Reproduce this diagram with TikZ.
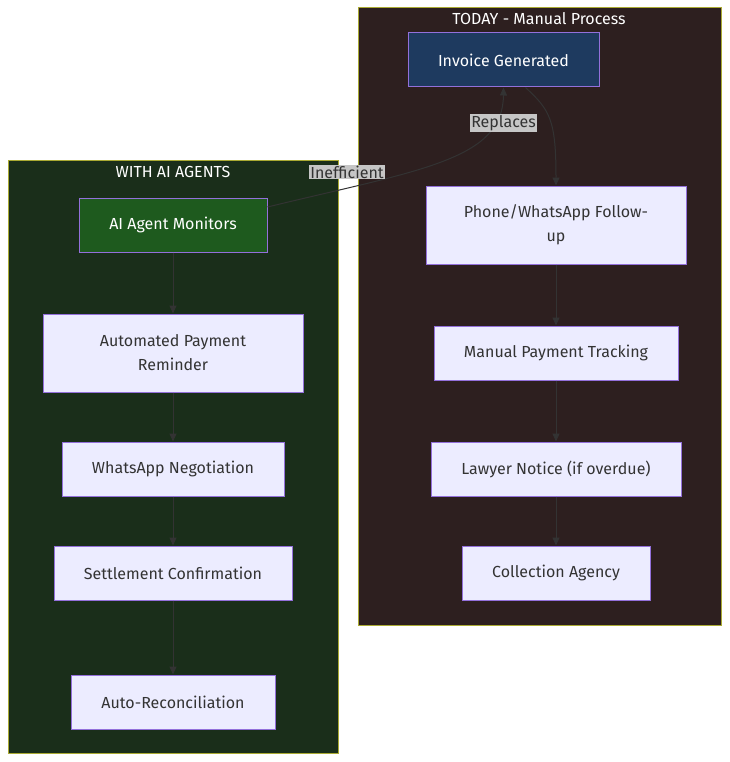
\documentclass[tikz,border=0pt]{standalone}
\usepackage{fontspec}
\setmainfont{Fira Sans}
\usetikzlibrary{arrows.meta}
\definecolor{todayfill}{HTML}{2D1F1F}
\definecolor{aifill}{HTML}{1A2E1A}
\definecolor{clborder}{HTML}{AAAA33}
\definecolor{invfill}{HTML}{1E3A5F}
\definecolor{aginfill}{HTML}{1E5A1E}
\definecolor{nodefill}{HTML}{ECECFF}
\definecolor{nodeborder}{HTML}{9370DB}
\definecolor{edgecol}{HTML}{333333}
\definecolor{textcol}{HTML}{333333}
\tikzset{
  box/.style={draw=nodeborder,fill=nodefill,text=textcol,line width=1pt,align=center,
    font=\fontsize{16}{24}\selectfont,inner sep=0pt},
  cluster/.style={draw=clborder,line width=1pt},
  ctitle/.style={text=white,font=\fontsize{16}{19}\selectfont},
  edge/.style={draw=edgecol,line width=1pt,-{Triangle[length=8pt,width=7pt]}},
  elabel/.style={fill=lightgray!90,text=textcol,font=\fontsize{16}{19}\selectfont,inner sep=1pt}
}
\begin{document}
\begin{tikzpicture}[x=1pt,y=-1pt]
\useasboundingbox (0,0) rectangle (729,762);
\fill[white] (0,0) rectangle (729,762);
\draw[cluster,fill=todayfill] (358,8) rectangle (721,625);
\node[ctitle] (t1) at (539,19) {TODAY - Manual Process};
\draw[cluster,fill=aifill] (8,161) rectangle (338,753);
\node[ctitle] (t2) at (173,172) {WITH AI AGENTS};

\node[box,fill=invfill,text=white,minimum width=191pt,minimum height=54pt] (inv) at (503.5,60) {Invoice Generated};
\node[box,minimum width=260pt,minimum height=78pt] (phone) at (556,225) {Phone/WhatsApp Follow-\\up};
\node[box,minimum width=244pt,minimum height=54pt] (man) at (556,353) {Manual Payment Tracking};
\node[box,minimum width=250pt,minimum height=54pt] (law) at (556,469) {Lawyer Notice (if overdue)};
\node[box,minimum width=188pt,minimum height=54pt] (coll) at (556,573) {Collection Agency};

\node[box,fill=aginfill,text=white,minimum width=188pt,minimum height=54pt] (ag) at (173,225) {AI Agent Monitors};
\node[box,minimum width=260pt,minimum height=78pt] (auto) at (173,353) {Automated Payment\\Reminder};
\node[box,minimum width=222pt,minimum height=54pt] (wn) at (173,469) {WhatsApp Negotiation};
\node[box,minimum width=238pt,minimum height=54pt] (set) at (173,573) {Settlement Confirmation};
\node[box,minimum width=204pt,minimum height=54pt] (rec) at (173,702) {Auto-Reconciliation};

\draw[edge] (inv.south east) ++(-74,0) coordinate (s1) .. controls (550,110) and (556,120) .. (phone.north);
\draw[edge] (phone) -- (man);
\draw[edge] (man) -- (law);
\draw[edge] (law) -- (coll);
\draw[edge] (ag) -- (auto);
\draw[edge] (auto) -- (wn);
\draw[edge] (wn) -- (set);
\draw[edge] (set) -- (rec);
\draw[edge] (ag.east) ++(0,-18) coordinate (s2) .. controls (420,170) and (503,160) .. (inv.south);
\node[elabel] (lr) at (503.5,123) {Replaces};
\node[elabel] (li) at (347,172) {Inefficient};
\end{tikzpicture}
\end{document}
